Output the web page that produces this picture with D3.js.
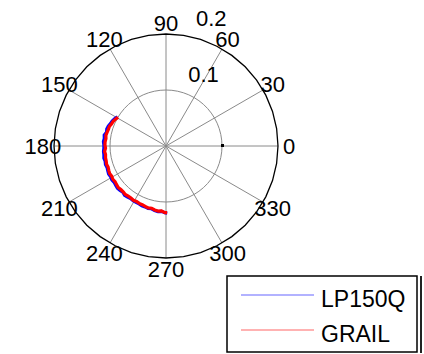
<!DOCTYPE html>
<html><head><meta charset="utf-8">
<script src="https://cdn.jsdelivr.net/npm/d3@7"></script>
<style>body{margin:0;background:#fff}svg{display:block}text{font-family:"Liberation Sans",Arial,sans-serif;fill:#000}</style>
</head><body>
<script>
const angleTicks = [0,30,60,90,120,150,180,210,240,270,300,330];
const radialTicks = [0.1, 0.2];
const seriesNames = ["LP150Q", "GRAIL"];
const seriesColors = ["#0000ff", "#ff0000"];
const angles = [149,152,155,158,161,164,167,170,173,176,179,182,185,188,191,194,197,200,203,206,209,212,215,218,221,224,227,230,233,236,239,242,245,248,251,254,257,260,263,266,269,271];
const grail = [.100,.102,.104,.105,.107,.107,.108,.109,.108,.109,.109,.108,.110,.109,.110,.110,.111,.110,.111,.112,.111,.112,.111,.112,.113,.112,.112,.113,.112,.112,.113,.112,.113,.113,.114,.115,.114,.116,.117,.116,.119,.119];
const lp150q = [.101,.104,.106,.107,.109,.110,.109,.112,.111,.112,.111,.111,.112,.112,.113,.112,.113,.112,.113,.114,.113,.114,.113,.114,.115,.114,.113,.115,.114,.113,.114,.114,.114,.115,.115,.116,.115,.117,.118,.117,.119,.120];

const W = 424, H = 354, cx = 166, cy = 146;
const svg = d3.select("body").append("svg").attr("width", W).attr("height", H);
const r = d3.scaleLinear().domain([0, 0.2]).range([0, 112]);
const toRad = d3.scaleLinear().domain([0, 360]).range([0, 2*Math.PI]);
const px = (a, v) => cx + r(v) * Math.cos(toRad(a));
const py = (a, v) => cy - r(v) * Math.sin(toRad(a));
const g = svg.append("g");
const FS = 22;

g.selectAll("line.spoke").data(angleTicks).join("line")
  .attr("x1", cx).attr("y1", cy)
  .attr("x2", d => px(d, 0.2)).attr("y2", d => py(d, 0.2))
  .attr("stroke", "#8a8a8a").attr("stroke-width", 1);

const circ = (v, n) => d3.range(n + 1).map(i => [px(i*360/n, v), py(i*360/n, v)]);
g.append("path").attr("d", d3.line()(circ(0.1, 60)))
  .attr("fill", "none").attr("stroke", "#8a8a8a").attr("stroke-width", 1);
g.append("path").attr("d", d3.line()(circ(0.2, 40)))
  .attr("fill", "none").attr("stroke", "#000").attr("stroke-width", 1.3);
g.append("rect").attr("x", px(0, 0.1) - 1).attr("y", cy - 2).attr("width", 3).attr("height", 3).attr("fill", "#000");

g.selectAll("text.ang").data(angleTicks).join("text")
  .attr("x", d => px(d, 0.22)).attr("y", d => py(d, 0.22) + 8)
  .attr("text-anchor", "middle").attr("font-size", FS)
  .text(d => d);
g.selectAll("text.rad").data(radialTicks).join("text")
  .attr("x", d => px(82, d + 0.005) + 14).attr("y", d => py(82, d + 0.005) - 6)
  .attr("font-size", FS).text(d => d);

const line = d3.line().x(d => px(d[0], d[1])).y(d => py(d[0], d[1]));
[lp150q, grail].forEach((vals, i) => {
  g.append("path").attr("d", line(angles.map((a, j) => [a, vals[j]])))
    .attr("fill", "none").attr("stroke", seriesColors[i]).attr("stroke-width", 3.2)
    .attr("stroke-linejoin", "miter");
});

const lg = svg.append("g");
lg.append("rect").attr("x", 227).attr("y", 276).attr("width", 190).attr("height", 76)
  .attr("fill", "#fff").attr("stroke", "#000").attr("stroke-width", 1.5);
lg.append("line").attr("x1", 421).attr("x2", 421).attr("y1", 276).attr("y2", 353).attr("stroke", "#222").attr("stroke-width", 2);
seriesNames.forEach((n, i) => {
  const y = 295 + i * 35;
  lg.append("line").attr("x1", 241).attr("x2", 314).attr("y1", y).attr("y2", y)
    .attr("stroke", seriesColors[i]).attr("stroke-opacity", 0.6).attr("stroke-width", 1.2);
  lg.append("text").attr("x", 321).attr("y", y + 12).attr("font-size", 23).text(n);
});
</script>
</body></html>
